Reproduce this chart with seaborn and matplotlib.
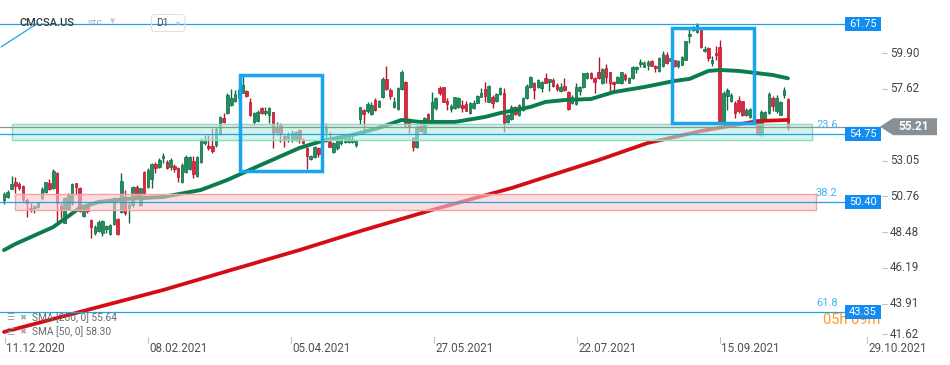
import matplotlib
matplotlib.use("Agg")
import matplotlib.pyplot as plt
from matplotlib.patches import Rectangle, Polygon, FancyBboxPatch
import numpy as np
import pandas as pd
import seaborn as sns

# ---------------- data ----------------
symbol = "CMCSA.US"
date_labels = ["11.12.2020", "08.02.2021", "05.04.2021", "27.05.2021",
               "22.07.2021", "15.09.2021", "29.10.2021"]
date_tick_bars = [0.26, 38.0, 75.8, 113.5, 151.3, 189.1, 227.9]
price_ticks = [59.90, 57.62, 53.05, 50.76, 48.48, 46.19, 43.91, 41.62]

open_ = [50.53, 50.70, 51.25, 51.66, 51.53, 51.44, 50.53, 50.04, 50.00, 50.06,
         50.64, 51.06, 51.61, 51.28, 52.25, 50.16, 49.08, 49.95, 50.32, 51.59,
         51.28, 49.51, 50.14, 49.23, 48.44, 48.55, 48.40, 48.70, 48.34, 49.00,
         49.31, 49.78, 50.53, 50.00, 50.21, 51.38, 50.21, 52.34, 51.38, 51.85,
         52.83, 52.65, 53.19, 52.97, 52.65, 52.70, 52.55, 51.70, 52.34, 52.49,
         53.04, 52.06, 52.97, 54.15, 53.98, 53.98, 54.04, 54.79, 55.75, 56.06,
         56.59, 56.85, 57.02, 57.38, 57.49, 56.77, 55.49, 55.59, 56.42, 56.06,
         55.96, 56.13, 54.89, 55.38, 54.63, 54.47, 54.40, 54.36, 55.00, 54.36,
         53.83, 53.13, 53.25, 53.83, 53.47, 54.89, 54.25, 53.61, 53.83, 54.19,
         54.23, 54.25, 54.25, 54.04, 55.68, 56.28, 56.23, 56.02, 56.91, 56.49,
         57.09, 58.24, 57.55, 56.45, 56.32, 57.60, 58.04, 55.57, 54.47, 53.93,
         55.27, 54.79, 56.02, 55.43, 56.38, 57.66, 57.72, 56.85, 56.32, 56.38,
         56.49, 56.59, 56.66, 56.06, 56.38, 56.74, 57.12, 57.60, 56.81, 57.12,
         56.87, 57.28, 57.38, 55.53, 55.70, 56.49, 55.96, 56.28, 57.02, 57.76,
         57.98, 57.72, 57.66, 58.30, 58.08, 58.19, 57.87, 57.51, 57.81, 57.44,
         56.70, 56.66, 57.51, 57.72, 58.30, 58.62, 58.30, 58.68, 57.98, 58.94,
         58.68, 58.08, 58.02, 57.98, 58.51, 58.02, 58.30, 58.87, 59.21, 59.04,
         59.17, 59.39, 59.10, 58.75, 59.07, 59.81, 59.42, 59.45, 59.07, 59.17,
         59.49, 60.98, 61.37, 61.26, 61.40, 60.02, 60.23, 59.28, 59.92, 60.30,
         55.45, 57.15, 56.87, 56.72, 56.93, 56.83, 55.94, 55.81, 56.20, 55.45,
         54.75, 55.66, 56.09, 57.04, 56.19, 55.98, 57.25, 56.98]

high_ = [51.06, 51.17, 52.06, 51.98, 51.70, 51.49, 50.64, 50.32, 50.21, 50.42,
         51.38, 51.70, 51.85, 52.49, 52.34, 50.32, 50.74, 50.96, 51.59, 51.63,
         51.34, 50.21, 50.21, 49.30, 48.93, 49.25, 49.25, 48.91, 49.00, 50.70,
         49.36, 52.27, 51.17, 50.42, 51.42, 51.49, 51.31, 52.38, 52.55, 52.87,
         52.94, 53.19, 53.55, 53.08, 53.19, 52.81, 52.65, 52.87, 53.40, 53.34,
         53.34, 53.34, 54.47, 54.68, 54.68, 55.11, 55.21, 55.89, 56.06, 57.34,
         57.60, 57.55, 57.76, 58.51, 57.55, 57.02, 56.17, 56.28, 56.49, 56.45,
         56.45, 56.17, 55.53, 55.46, 54.68, 54.89, 55.00, 54.95, 55.04, 54.47,
         53.93, 53.40, 53.98, 53.89, 54.00, 55.46, 54.89, 54.25, 54.57, 54.68,
         54.57, 54.62, 54.68, 54.36, 56.49, 56.32, 56.81, 56.81, 57.02, 56.91,
         58.40, 59.09, 57.66, 57.12, 57.72, 58.83, 58.15, 55.75, 54.57, 55.32,
         55.38, 55.81, 56.06, 57.44, 57.09, 57.81, 57.76, 57.02, 56.66, 57.12,
         57.09, 56.91, 56.87, 56.81, 56.91, 57.23, 57.66, 58.04, 57.87, 57.23,
         57.34, 57.76, 57.66, 56.02, 56.59, 56.55, 56.66, 57.09, 57.94, 58.45,
         58.08, 58.24, 58.15, 58.62, 58.24, 58.30, 57.98, 57.98, 58.30, 57.51,
         57.23, 58.02, 57.81, 58.66, 58.72, 58.72, 58.40, 59.64, 58.94, 59.21,
         58.72, 58.15, 58.45, 58.72, 58.62, 58.40, 59.10, 59.10, 59.51, 59.42,
         59.49, 59.49, 59.17, 59.64, 60.06, 59.98, 59.64, 59.49, 59.49, 59.70,
         60.70, 61.51, 61.62, 61.83, 61.47, 60.34, 60.28, 59.70, 60.34, 60.77,
         57.47, 57.68, 57.36, 56.83, 57.15, 56.87, 56.40, 56.40, 56.30, 55.60,
         56.28, 56.23, 57.43, 57.15, 57.21, 56.83, 57.74, 57.04]

low_ = [50.27, 50.64, 51.21, 50.96, 51.17, 50.42, 49.46, 49.78, 49.68, 50.00,
        50.53, 51.00, 51.17, 51.23, 49.14, 49.36, 49.04, 49.89, 50.21, 50.85,
        49.78, 49.46, 49.68, 48.12, 48.29, 48.50, 48.23, 48.40, 48.29, 48.93,
        48.29, 49.72, 49.57, 49.08, 50.10, 50.64, 50.14, 50.85, 51.31, 51.31,
        52.23, 52.59, 52.91, 52.49, 52.44, 52.34, 51.70, 51.59, 52.23, 52.44,
        51.91, 52.02, 52.87, 54.04, 53.72, 53.51, 53.93, 54.68, 55.43, 56.02,
        56.53, 56.81, 56.70, 57.34, 57.12, 55.89, 55.32, 55.53, 56.00, 55.96,
        55.43, 53.83, 54.68, 54.25, 53.93, 54.25, 54.25, 54.32, 54.19, 54.10,
        52.49, 53.08, 53.19, 53.25, 53.40, 54.25, 53.89, 53.55, 53.72, 54.04,
        54.15, 54.15, 54.15, 53.93, 55.32, 55.00, 56.06, 55.96, 56.23, 56.45,
        57.02, 57.55, 56.96, 56.38, 56.28, 57.55, 55.11, 54.79, 53.68, 53.83,
        54.89, 54.74, 55.53, 55.36, 56.28, 57.23, 56.77, 56.28, 56.17, 56.32,
        56.38, 56.17, 56.21, 56.02, 56.32, 56.70, 57.09, 56.81, 56.77, 56.38,
        56.81, 57.23, 54.89, 55.46, 55.64, 55.96, 55.89, 56.21, 56.96, 57.70,
        56.96, 57.66, 57.44, 57.98, 57.51, 57.76, 57.51, 57.44, 57.51, 56.28,
        56.66, 56.59, 57.23, 57.66, 58.24, 58.24, 57.38, 58.24, 57.94, 57.98,
        57.38, 57.44, 57.98, 57.94, 58.15, 57.98, 58.26, 58.62, 59.04, 59.00,
        58.85, 59.07, 58.70, 58.70, 59.00, 59.23, 59.39, 59.02, 58.96, 59.13,
        59.45, 60.55, 61.30, 61.19, 60.23, 59.98, 59.39, 59.07, 59.49, 55.45,
        55.38, 56.30, 56.79, 55.76, 56.09, 55.87, 55.87, 55.76, 55.60, 54.65,
        54.60, 55.55, 56.02, 56.19, 56.09, 55.94, 57.04, 55.02]

close_ = [50.91, 51.02, 51.55, 51.44, 51.31, 50.61, 50.36, 49.93, 50.16, 50.38,
          51.23, 51.66, 51.21, 52.40, 50.32, 49.95, 50.64, 50.85, 51.53, 51.34,
          49.83, 50.14, 49.83, 48.82, 48.82, 49.14, 49.21, 48.87, 48.93, 50.64,
          48.36, 51.76, 49.68, 50.21, 51.38, 50.70, 51.28, 50.96, 52.46, 52.83,
          52.59, 53.08, 53.36, 52.59, 53.08, 52.49, 52.02, 52.76, 53.25, 53.25,
          52.19, 53.25, 54.36, 54.36, 53.83, 53.68, 55.04, 55.81, 55.49, 57.23,
          57.06, 57.28, 57.55, 57.87, 57.19, 55.96, 56.06, 56.13, 56.06, 56.23,
          56.38, 54.79, 55.11, 54.79, 54.36, 54.74, 54.83, 54.89, 54.42, 54.19,
          53.34, 53.34, 53.93, 53.47, 53.80, 55.21, 53.93, 54.15, 54.36, 54.47,
          54.44, 54.47, 54.44, 54.30, 56.45, 56.02, 56.66, 56.59, 56.28, 56.85,
          58.26, 57.60, 57.19, 56.77, 57.66, 58.68, 55.43, 55.21, 53.93, 55.21,
          54.93, 55.75, 55.59, 56.81, 57.02, 57.34, 56.81, 56.66, 56.53, 57.09,
          57.02, 56.42, 56.23, 56.70, 56.74, 57.17, 57.38, 57.17, 57.81, 56.74,
          57.30, 57.66, 55.46, 55.94, 56.49, 56.02, 56.58, 57.02, 57.81, 58.40,
          57.55, 58.19, 58.08, 58.02, 58.24, 57.83, 57.62, 57.76, 57.55, 56.34,
          57.12, 57.76, 57.76, 58.62, 58.66, 58.30, 58.08, 58.30, 58.87, 58.36,
          57.98, 57.92, 58.36, 58.68, 58.24, 58.34, 59.04, 59.04, 59.36, 59.26,
          59.32, 59.10, 58.96, 59.60, 59.85, 59.28, 59.60, 59.07, 59.39, 59.64,
          60.66, 61.15, 61.51, 61.77, 60.28, 60.17, 59.60, 59.49, 59.77, 55.51,
          57.36, 57.57, 57.25, 56.09, 56.19, 55.94, 56.30, 56.34, 55.80, 54.75,
          56.13, 56.15, 57.30, 56.51, 57.04, 56.77, 57.53, 55.21]

sma50_bar = [0, 3, 13, 20, 25, 32, 42, 52, 59, 66, 72, 78, 84, 92, 99, 105, 110,
             119, 127, 131, 139, 143, 148, 155, 161, 169, 177, 181, 186, 189, 194,
             203, 207]
sma50_val = [47.33, 47.72, 48.80, 50.02, 50.40, 50.59, 50.72, 51.17, 51.81, 52.57,
             53.21, 53.85, 54.30, 54.68, 55.13, 55.64, 55.51, 55.51, 55.83, 56.08,
             56.47, 56.79, 56.91, 56.98, 57.42, 57.74, 58.13, 58.26, 58.77, 58.83,
             58.77, 58.51, 58.30]
sma200_bar = [0, 20, 42, 60, 78, 95, 113, 134, 157, 170, 184, 199, 207]
sma200_val = [42.10, 43.38, 44.78, 46.06, 47.33, 48.61, 49.89, 51.29, 53.08,
              54.17, 54.93, 55.57, 55.64]

level_values = [61.75, 54.75, 50.40, 43.35]
fib_names = ["23.6", "38.2", "61.8"]
fib_values = [54.75, 50.40, 43.35]
last_price = 55.21
green_zone = [54.36, 55.38]
red_zone = [49.89, 50.91]
box1_bars, box1_prices = [62.3, 84.0], [52.38, 58.51]
box2_bars, box2_prices = [176.3, 198.1], [55.46, 61.53]
legend_lines = ["SMA [200, 0] 55.64", "SMA [50, 0] 58.30"]
timer_text = "05h 09m"

# ---------------- layout helpers (pixel -> axis units) ----------------
BAR0_PX, BAR_PX = 4.0, 3.787
PX_PER_Y = 0.06386
def X(px):
    return (px - BAR0_PX) / BAR_PX
def P(py):
    return 63.30 - py * PX_PER_Y

sns.set_theme(style="white")
plt.rcParams["font.family"] = ["Roboto", "DejaVu Sans"]

fig = plt.figure(figsize=(9.5, 3.65), dpi=100)
fig.patch.set_facecolor("white")
ax = fig.add_axes([0, 27 / 365, 880 / 950, 338 / 365])
ax.set_facecolor("white")
ax.set_xlim(X(0), X(880))
ax.set_ylim(P(338), P(0))
for s in ax.spines.values():
    s.set_visible(False)
ax.set_xticks([])
ax.set_yticks([])
ax.grid(False)

# ---------------- candles ----------------
df = pd.DataFrame({"bar": np.arange(len(close_)), "open": open_, "high": high_,
                   "low": low_, "close": close_})
up = df["close"] >= df["open"]
G_FILL, G_EDGE = "#1e8f5e", "#0d6b43"
R_FILL, R_EDGE = "#e2273d", "#b3162b"
wick_c = np.where(up, G_EDGE, R_EDGE)
ax.vlines(df["bar"], df["low"], df["high"], colors=wick_c, lw=1.0, zorder=2)
body_bot = np.minimum(df["open"], df["close"])
body_h = np.maximum((df["close"] - df["open"]).abs(), 0.05)
ax.bar(df["bar"], body_h, bottom=body_bot, width=0.68,
       color=np.where(up, G_FILL, R_FILL), edgecolor=wick_c, linewidth=0.5,
       zorder=2.5)

# ---------------- moving averages ----------------
sns.lineplot(x=sma200_bar, y=sma200_val, ax=ax, color="#d40d12", linewidth=2.7,
             zorder=3, legend=False, errorbar=None)
sns.lineplot(x=sma50_bar, y=sma50_val, ax=ax, color="#0b7c4c", linewidth=2.8,
             zorder=3, legend=False, errorbar=None)

# ---------------- zones (semi transparent, over candles) ----------------
ax.add_patch(Rectangle((X(12), green_zone[0]), X(812) - X(12),
                       green_zone[1] - green_zone[0],
                       facecolor=(183 / 255, 237 / 255, 220 / 255, 0.6),
                       edgecolor="#8edbbf", lw=1.0, zorder=4))
ax.add_patch(Rectangle((X(15), red_zone[0]), X(816) - X(15),
                       red_zone[1] - red_zone[0],
                       facecolor=(247 / 255, 200 / 255, 203 / 255, 0.6),
                       edgecolor="#f0a3a8", lw=1.0, zorder=4))

# ---------------- horizontal levels ----------------
LINE_BLUE = "#1ea3e9"
for v in level_values:
    ax.plot([X(0), X(845)], [v, v], color=LINE_BLUE, lw=0.9, zorder=5,
            clip_on=False)
ax.plot([X(0), X(880)], [last_price, last_price], color="#8d9499", lw=0.9,
        zorder=5, clip_on=False)
ax.plot([X(1), X(38)], [P(47), P(23)], color=LINE_BLUE, lw=0.9, zorder=5)

for name, v in zip(fib_names, fib_values):
    ax.text(X(816), v + 9 * PX_PER_Y, name, fontsize=8, color="#47b3ee",
            ha="left", va="center", zorder=6, clip_on=False)

# highlight boxes
BOX_BLUE = "#17a5ef"
for bx, by in [(box1_bars, box1_prices), (box2_bars, box2_prices)]:
    ax.add_patch(Rectangle((bx[0], by[0]), bx[1] - bx[0], by[1] - by[0],
                           fill=False, edgecolor=BOX_BLUE, lw=2.5, zorder=6))

# timer text (partly hidden by the 43.35 box)
ax.text(X(823), P(320), timer_text, fontsize=10.5, color="#ff9a1f",
        ha="left", va="center", zorder=6, clip_on=False)

# level label boxes
for v in level_values:
    half = 7 * PX_PER_Y
    ax.add_patch(Rectangle((X(845), v - half), X(881) - X(845), 2 * half,
                           facecolor="#138cf2", edgecolor="none", zorder=7,
                           clip_on=False))
    ax.text(X(863), v, f"{v:.2f}", fontsize=7.9, color="white", ha="center",
            va="center", zorder=8, clip_on=False)

# last price gray tag
h = 8.5 * PX_PER_Y
ax.add_patch(Polygon([(X(880), last_price), (X(893), last_price + h),
                      (X(937), last_price + h), (X(937), last_price - h),
                      (X(893), last_price - h)], closed=True,
                     facecolor="#899095", edgecolor="none", zorder=7,
                     clip_on=False))
ax.text(X(914), last_price, f"{last_price:.2f}", fontsize=8.6, color="white",
        fontweight="bold", ha="center", va="center", zorder=8, clip_on=False)

# price axis labels
for v in price_ticks:
    y = max(v, P(334))
    ax.plot([X(882), X(887)], [y, y], color="#c4c4c4", lw=0.8, clip_on=False)
    ax.text(X(890), y, f"{v:.2f}", fontsize=8.4, color="#454545", ha="left",
            va="center", clip_on=False)

# date axis labels
for b, lab in zip(date_tick_bars, date_labels):
    ax.plot([b, b], [P(337), P(343)], color="#c4c4c4", lw=0.8, clip_on=False)
    ax.text(b + 0.35, P(348.5), lab, fontsize=8.4, color="#505050", ha="left",
            va="center", clip_on=False)

# legend of indicators
for i, txt in enumerate(legend_lines):
    yy = P(318 + 14 * i)
    ax.text(X(6), yy, "\u2630", fontsize=6.5, color="#9a9a9a", ha="left",
            va="center", zorder=8, family=["DejaVu Sans"])
    ax.text(X(19), yy, "\u2716", fontsize=6, color="#a8a8a8", ha="left",
            va="center", zorder=8, family=["DejaVu Sans"])
    ax.text(X(32), yy, txt, fontsize=7.3, color="#6a6a6a", ha="left",
            va="center", zorder=8)

# header
ax.text(X(20), P(22.5), symbol, fontsize=8, color="#3a3a3a", ha="left",
        va="center", fontweight="medium", zorder=8)
ax.text(X(88), P(23), "STC", fontsize=5.8, color="#9a9a9a", ha="left",
        va="center", zorder=8)
ax.text(X(110), P(21.5), "\u25BC", fontsize=5, color="#c8c8c8", ha="left",
        va="center", zorder=8, family=["DejaVu Sans"])
fig.add_artist(FancyBboxPatch((1.515, (365 - 31.5) / 100), 0.335, 0.17,
                              boxstyle="round,pad=0,rounding_size=0.03",
                              transform=fig.dpi_scale_trans,
                              facecolor="none", edgecolor="#e0e0e0", lw=0.8))
ax.text(X(156), P(23), "D1", fontsize=7.3, color="#4a4a4a", ha="left",
        va="center", zorder=8)
ax.text(X(176), P(22.5), "\u25BE", fontsize=6, color="#c8c8c8", ha="left",
        va="center", zorder=8, family=["DejaVu Sans"])

fig.savefig("out.png", dpi=100, facecolor="white")
